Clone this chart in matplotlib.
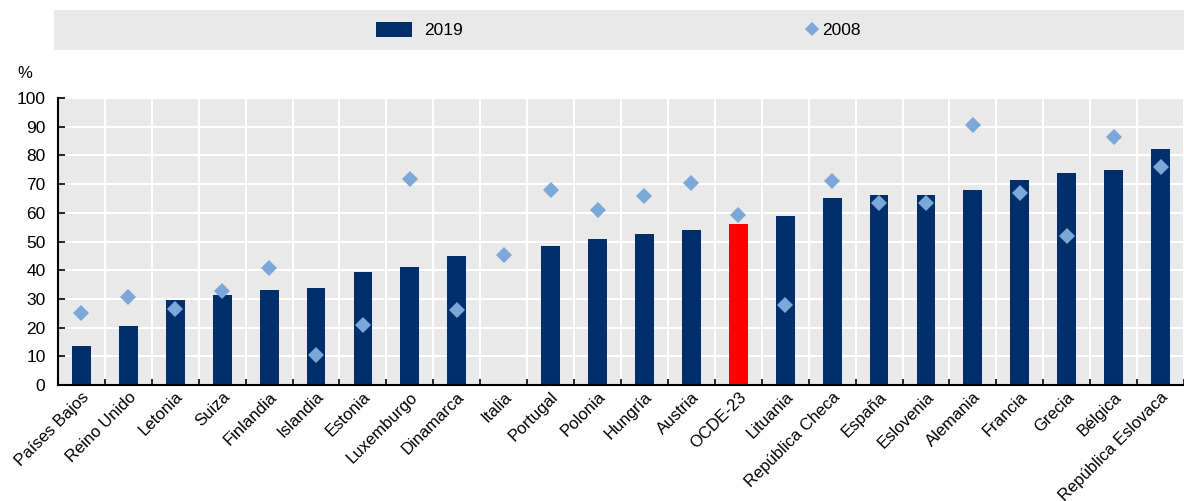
import matplotlib.pyplot as plt
import numpy as np

plt.rcParams['font.family'] = ['Liberation Sans', 'DejaVu Sans']

countries = ['Países Bajos', 'Reino Unido', 'Letonia', 'Suiza', 'Finlandia', 'Islandia',
             'Estonia', 'Luxemburgo', 'Dinamarca', 'Italia', 'Portugal', 'Polonia',
             'Hungría', 'Austria', 'OCDE-23', 'Lituania', 'República Checa', 'España',
             'Eslovenia', 'Alemania', 'Francia', 'Grecia', 'Bélgica', 'República Eslovaca']
v2019 = [13.6, 20.6, 29.5, 31.5, 33.1, 33.7, 39.5, 41.1, 45.1, np.nan, 48.3, 50.8,
         52.5, 54.0, 56.1, 58.9, 65.0, 66.2, 66.2, 67.9, 71.5, 73.9, 74.8, 82.1]
v2008 = [25.0, 30.8, 26.5, 32.8, 40.9, 10.6, 20.9, 71.9, 26.2, 45.4, 67.9, 61.1,
         66.0, 70.5, 59.3, 27.8, 71.1, 63.4, 63.3, 90.7, 67.0, 51.9, 86.3, 75.8]
highlight = 'OCDE-23'

navy = '#002f6c'
light = '#7ba7d9'
bg = '#e9e9e9'

fig = plt.figure(figsize=(11.84, 5.01), dpi=100)
ax = fig.add_axes([58 / 1184, 1 - 385 / 501, 1 - 58 / 1184, 287 / 501])
ax.set_facecolor(bg)

x = np.arange(len(countries))
colors = ['#ff0000' if c == highlight else navy for c in countries]
bars = ax.bar(x, v2019, width=0.4, color=colors, zorder=3, label='2019')
pts, = ax.plot(x, v2008, linestyle='none', marker='D', markersize=8, color=light,
               markeredgewidth=0, zorder=4, label='2008')

ax.set_xlim(-0.5, len(countries) - 0.5)
ax.set_ylim(0, 100)
ax.set_yticks(range(0, 101, 10))
ax.set_xticks(x + 0.5, minor=False)
ax.set_xticklabels([])
ax.set_xticks(x, minor=True)
ax.set_xticklabels(countries, minor=True, rotation=45, ha='right', va='top',
                   rotation_mode='anchor', fontsize=12)
ax.tick_params(axis='x', which='minor', length=0, pad=3)
ax.tick_params(axis='x', which='major', direction='in', length=4, width=1.2)
ax.tick_params(axis='y', direction='in', length=5, width=1.2, labelsize=12.5, pad=9)
ax.grid(True, which='major', color='white', linewidth=1.5, zorder=0)
ax.set_axisbelow(True)
for s in ['top', 'right']:
    ax.spines[s].set_visible(False)
for s in ['left', 'bottom']:
    ax.spines[s].set_linewidth(1.5)
    ax.spines[s].set_zorder(5)
fig.text(25 / 1184, 1 - 74 / 501, '%', fontsize=12, ha='center', va='center')

# legend band
lax = fig.add_axes([54 / 1184, 1 - 50 / 501, 1130 / 1184, 40 / 501])
lax.set_facecolor(bg)
lax.set_xticks([])
lax.set_yticks([])
for s in lax.spines.values():
    s.set_visible(False)

fig.legend(handles=[bars], labels=['2019'], loc='center left',
           bbox_to_anchor=(376 / 1184, 1 - 30 / 501), frameon=False, fontsize=12.5,
           handlelength=2.1, handleheight=1.0, handletextpad=0.7, borderpad=0, borderaxespad=0)
fig.legend(handles=[pts], labels=['2008'], loc='center left',
           bbox_to_anchor=(803 / 1184, 1 - 30 / 501), frameon=False, fontsize=12.5,
           handlelength=1.0, handletextpad=0.1, borderpad=0, borderaxespad=0,
           markerscale=0.85)

fig.savefig('out.png', dpi=100)
